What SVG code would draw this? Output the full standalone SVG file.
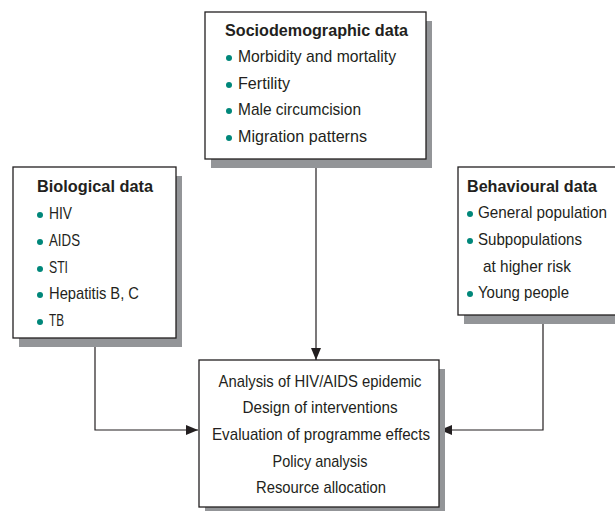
<svg xmlns="http://www.w3.org/2000/svg" width="615" height="511" viewBox="0 0 615 511">
<defs>
<marker id="arr" viewBox="0 0 12 10" refX="12" refY="5" markerWidth="12" markerHeight="10" markerUnits="userSpaceOnUse" orient="auto">
<path d="M0,0 L12,5 L0,10 Z" fill="#231f20"/>
</marker>
</defs>
<style>
.shadow{fill:#939598;}
.box{fill:#ffffff;stroke:#231f20;stroke-width:1.3;}
.t{font-family:"Liberation Sans",Arial,sans-serif;font-size:17px;fill:#231f20;}
.b{font-weight:bold;}
.m{text-anchor:middle;}
.dot{fill:#00877a;}
.con{fill:none;stroke:#231f20;stroke-width:1.2;}
</style>
<rect width="615" height="511" fill="#ffffff"/>
<g id="connectors">
<line class="con" x1="316" y1="159" x2="316" y2="360" marker-end="url(#arr)"/>
<polyline class="con" points="95,338 95,430 198,430" marker-end="url(#arr)"/>
<polyline class="con" points="543,315 543,430 440,430" marker-end="url(#arr)"/>
</g>
<g id="sociodemographic">
<rect class="shadow" x="211" y="21" width="221" height="147"/>
<rect class="box" x="205" y="12" width="221" height="147"/>
<text class="t b" x="225" y="36" textLength="183" lengthAdjust="spacingAndGlyphs">Sociodemographic data</text>
<circle class="dot" cx="229" cy="58" r="3"/>
<text class="t" x="238" y="62" textLength="158" lengthAdjust="spacingAndGlyphs">Morbidity and mortality</text>
<circle class="dot" cx="229" cy="85" r="3"/>
<text class="t" x="238" y="89" textLength="52" lengthAdjust="spacingAndGlyphs">Fertility</text>
<circle class="dot" cx="229" cy="111" r="3"/>
<text class="t" x="238" y="115" textLength="123" lengthAdjust="spacingAndGlyphs">Male circumcision</text>
<circle class="dot" cx="229" cy="138" r="3"/>
<text class="t" x="238" y="142" textLength="129" lengthAdjust="spacingAndGlyphs">Migration patterns</text>
</g>
<g id="biological">
<rect class="shadow" x="19" y="176" width="163" height="171"/>
<rect class="box" x="13" y="167" width="163" height="171"/>
<text class="t b" x="37" y="192" textLength="116" lengthAdjust="spacingAndGlyphs">Biological data</text>
<circle class="dot" cx="40" cy="215" r="3"/>
<text class="t" x="49" y="219" textLength="23" lengthAdjust="spacingAndGlyphs">HIV</text>
<circle class="dot" cx="40" cy="242" r="3"/>
<text class="t" x="49" y="246" textLength="31" lengthAdjust="spacingAndGlyphs">AIDS</text>
<circle class="dot" cx="40" cy="269" r="3"/>
<text class="t" x="49" y="273" textLength="19" lengthAdjust="spacingAndGlyphs">STI</text>
<circle class="dot" cx="40" cy="295" r="3"/>
<text class="t" x="49" y="299" textLength="90" lengthAdjust="spacingAndGlyphs">Hepatitis B, C</text>
<circle class="dot" cx="40" cy="322" r="3"/>
<text class="t" x="49" y="326" textLength="15" lengthAdjust="spacingAndGlyphs">TB</text>
</g>
<g id="behavioural">
<rect class="shadow" x="464" y="176" width="170" height="148"/>
<rect class="box" x="458" y="167" width="170" height="148"/>
<text class="t b" x="467" y="192" textLength="130" lengthAdjust="spacingAndGlyphs">Behavioural data</text>
<circle class="dot" cx="470" cy="214" r="3"/>
<text class="t" x="478" y="218" textLength="129" lengthAdjust="spacingAndGlyphs">General population</text>
<circle class="dot" cx="470" cy="241" r="3"/>
<text class="t" x="478" y="245" textLength="104" lengthAdjust="spacingAndGlyphs">Subpopulations</text>
<text class="t" x="483" y="272" textLength="88" lengthAdjust="spacingAndGlyphs">at higher risk</text>
<circle class="dot" cx="470" cy="294" r="3"/>
<text class="t" x="478" y="298" textLength="91" lengthAdjust="spacingAndGlyphs">Young people</text>
</g>
<g id="analysis">
<rect class="shadow" x="205" y="369" width="240" height="146"/>
<rect class="box" x="199" y="360" width="240" height="147"/>
<text class="t m" x="320" y="387" textLength="203" lengthAdjust="spacingAndGlyphs">Analysis of HIV/AIDS epidemic</text>
<text class="t m" x="320" y="413" textLength="155" lengthAdjust="spacingAndGlyphs">Design of interventions</text>
<text class="t m" x="321" y="440" textLength="218" lengthAdjust="spacingAndGlyphs">Evaluation of programme effects</text>
<text class="t m" x="320" y="467" textLength="95" lengthAdjust="spacingAndGlyphs">Policy analysis</text>
<text class="t m" x="321" y="493" textLength="130" lengthAdjust="spacingAndGlyphs">Resource allocation</text>
</g>
</svg>
